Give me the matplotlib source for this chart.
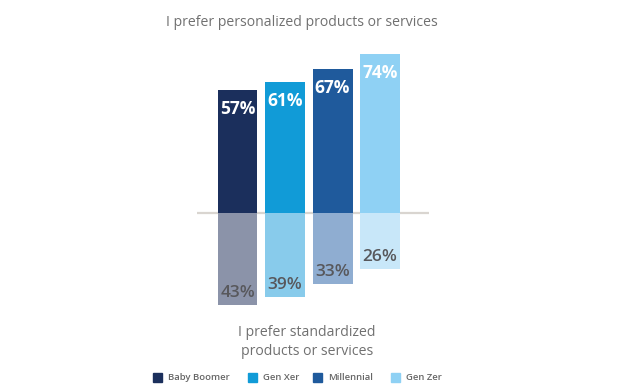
import matplotlib
matplotlib.use("Agg")
import matplotlib.pyplot as plt
from matplotlib.patches import Rectangle

categories = ["Baby Boomer", "Gen Xer", "Millennial", "Gen Zer"]
personalized = [57, 61, 67, 74]
standardized = [43, 39, 33, 26]
colors_top = ["#1b2f5c", "#119bd7", "#1f5a9c", "#8fd1f4"]
colors_bottom = ["#8b93a9", "#88cbeb", "#8fadd1", "#c8e7f9"]
title_top = "I prefer personalized products or services"
title_bottom = "I prefer standardized\nproducts or services"

W, H = 633, 391
fig = plt.figure(figsize=(W / 100, H / 100), dpi=100)
fig.patch.set_facecolor("white")

ax = fig.add_axes([197 / W, (H - 320.5) / H, 232 / W, 279.5 / H])
ax.set_xlim(-0.853, 4.03)
ax.set_ylim(-50, 80)
ax.axis("off")

x = list(range(len(categories)))
bw = 0.84
ax.axhline(0, color="#d9d5d0", lw=1.6, zorder=1)
ax.bar(x, personalized, width=bw, color=colors_top, zorder=2)
ax.bar(x, [-v for v in standardized], width=bw, color=colors_bottom, zorder=2)

for xi, v in zip(x, personalized):
    ax.annotate(f"{v}%", (xi, v), xytext=(0, -19), textcoords="offset pixels",
                ha="center", va="center", color="white", fontsize=12.5,
                fontweight="bold", family="Open Sans", zorder=3)
for xi, v in zip(x, standardized):
    ax.annotate(f"{v}%", (xi, -v), xytext=(0, 12), textcoords="offset pixels",
                ha="center", va="center", color="#58585c", fontsize=12.5,
                fontweight="semibold", family="Open Sans", zorder=3)

fig.text(302 / W, 1 - 22 / H, title_top, ha="center", va="center",
         color="#707070", fontsize=10.1, family="Open Sans")
fig.text(307 / W, 1 - 342 / H, title_bottom, ha="center", va="center",
         color="#707070", fontsize=10.1, family="Open Sans", linespacing=1.3)

leg_x = [153, 248, 313, 391]
for lx, c, name in zip(leg_x, colors_top, categories):
    fig.patches.append(Rectangle((lx / W, 1 - 382 / H), 9 / W, 9 / H,
                                 transform=fig.transFigure, color=c))
    fig.text((lx + 15) / W, 1 - 377.5 / H, name, ha="left", va="center",
             color="#666666", fontsize=6.8, fontweight="semibold", family="Open Sans")

fig.savefig("out.png", dpi=100, facecolor="white")
